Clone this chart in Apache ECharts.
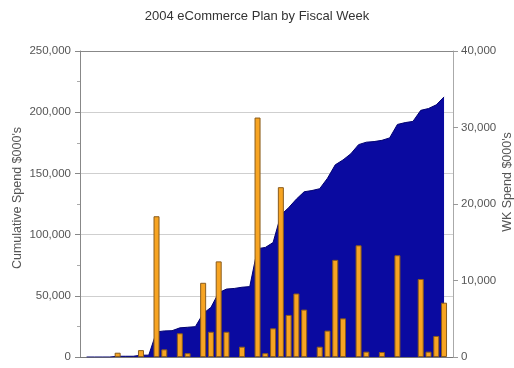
<!DOCTYPE html>
<html>
<head>
<meta charset="utf-8">
<script src="https://cdn.jsdelivr.net/npm/echarts@6/dist/echarts.min.js"></script>
<style>
  html, body { margin: 0; padding: 0; background: #fff; }
  #chart { width: 514px; height: 368px; }
</style>
</head>
<body>
<div id="chart"></div>
<script>
// Fiscal weeks of 2004
var weeks = ['1','2','3','4','5','6','7','8','9','10','11','12','13','14','15','16',
             '17','18','19','20','21','22','23','24','25','26','27','28','29','30','31','32',
             '33','34','35','36','37','38','39','40','41','42','43','44','45','46','47','48'];

// Weekly eCommerce spend, $000's (right axis)
var weeklySpend = ['-', '-', '-', '-', 560, '-', '-', 900, '-', 18400, 1000, '-', 3100, 500, '-', 9700,
                   3300, 12500, 3300, '-', 1350, '-', 31300, 500, 3750, 22200, 5500, 8300, 6200, '-', 1350, 3450,
                   12700, 5050, '-', 14600, 700, '-', 650, '-', 13300, '-', '-', 10200, 700, 2750, 7100, '-'];

// Cumulative spend, $000's (left axis)
var cumulativeSpend = [0, 0, 0, 0, 600, 600, 600, 1500, 1500, 20500, 21300, 21500, 23800, 24300, 24800, 35500,
                       40500, 52500, 55500, 56000, 57000, 57500, 88500, 89500, 93500, 116000, 122000, 129000, 135000, 136000, 137500, 146000,
                       157000, 161000, 166000, 173500, 175500, 176000, 177000, 179000, 190000, 191500, 192500, 201500, 203000, 206000, 212500, '-'];

var leftTicks = [0, 50000, 100000, 150000, 200000, 250000];
var rightTicks = [0, 10000, 20000, 30000, 40000];

function fmt(v) { return Number(v).toLocaleString('en-US'); }

var FONT = 'Liberation Sans, Arial, sans-serif';
var leftMin = leftTicks[0], leftMax = leftTicks[leftTicks.length - 1], leftStep = leftTicks[1] - leftTicks[0];
var rightMin = rightTicks[0], rightMax = rightTicks[rightTicks.length - 1], rightStep = rightTicks[1] - rightTicks[0];

var chart = echarts.init(document.getElementById('chart'), null, { renderer: 'canvas' });

chart.setOption({
  animation: false,
  backgroundColor: '#ffffff',
  title: {
    text: '2004 eCommerce Plan by Fiscal Week',
    left: 'center',
    top: 5,
    textStyle: { fontFamily: FONT, fontSize: 13, fontWeight: 'normal', color: '#333' }
  },
  // grid 0 carries the visible frame and axes; grid 1 carries the data,
  // its week slots sitting a little to the right of the frame
  grid: [
    { left: 80, right: 61, top: 51, bottom: 11, containLabel: false },
    { left: 82.7, right: 58.3, top: 51, bottom: 11, containLabel: false }
  ],
  xAxis: [
    {
      type: 'category',
      gridIndex: 0,
      data: weeks,
      axisLine: { show: true, lineStyle: { color: '#777', width: 1 } },
      axisTick: { show: false },
      axisLabel: { show: false },
      splitLine: { show: false }
    },
    {
      type: 'category',
      gridIndex: 1,
      data: weeks,
      boundaryGap: true,
      show: false
    }
  ],
  yAxis: [
    {
      type: 'value',
      gridIndex: 0,
      position: 'left',
      min: leftMin, max: leftMax, interval: leftStep,
      axisLine: { show: true, lineStyle: { color: '#888', width: 1 } },
      axisTick: { show: true, inside: false, length: 5, lineStyle: { color: '#888' } },
      minorTick: { show: true, splitNumber: 2, length: 3, lineStyle: { color: '#aaa' } },
      axisLabel: { margin: 9, color: '#555', fontSize: 11.5, fontFamily: FONT, formatter: fmt },
      splitLine: { show: true, lineStyle: { color: ['#999', '#cfcfcf', '#cfcfcf', '#cfcfcf', '#cfcfcf', '#888'], width: 1 } }
    },
    {
      type: 'value',
      gridIndex: 0,
      position: 'right',
      min: rightMin, max: rightMax, interval: rightStep,
      axisLine: { show: true, lineStyle: { color: '#aaa', width: 1 } },
      axisTick: { show: true, inside: false, length: 5, lineStyle: { color: '#999' } },
      axisLabel: { margin: 8, color: '#555', fontSize: 11.5, fontFamily: FONT, formatter: fmt },
      splitLine: { show: false }
    },
    { type: 'value', gridIndex: 1, position: 'left', min: leftMin, max: leftMax, interval: leftStep, show: false, splitLine: { show: false } },
    { type: 'value', gridIndex: 1, position: 'right', min: rightMin, max: rightMax, interval: rightStep, show: false, splitLine: { show: false } }
  ],
  graphic: [
    {
      type: 'text',
      x: 18, y: 198,
      rotation: Math.PI / 2,
      style: {
        text: "Cumulative Spend $000's",
        fill: '#555',
        font: '12.5px ' + FONT,
        textAlign: 'center',
        textVerticalAlign: 'middle'
      }
    },
    {
      type: 'text',
      x: 508, y: 182,
      rotation: Math.PI / 2,
      style: {
        text: "WK Spend $000's",
        fill: '#555',
        font: '12.5px ' + FONT,
        textAlign: 'center',
        textVerticalAlign: 'middle'
      }
    }
  ],
  series: [
    {
      name: 'Cumulative Spend',
      type: 'line',
      xAxisIndex: 1,
      yAxisIndex: 2,
      data: cumulativeSpend,
      symbol: 'none',
      lineStyle: { color: '#000070', width: 1 },
      areaStyle: { color: '#0a0aa0', opacity: 1 },
      z: 1
    },
    {
      name: 'WK Spend',
      type: 'bar',
      xAxisIndex: 1,
      yAxisIndex: 3,
      data: weeklySpend,
      barWidth: 6,
      itemStyle: { color: '#f7a422', borderColor: '#8a5c1c', borderWidth: 1 },
      z: 3
    }
  ]
});
</script>
</body>
</html>
